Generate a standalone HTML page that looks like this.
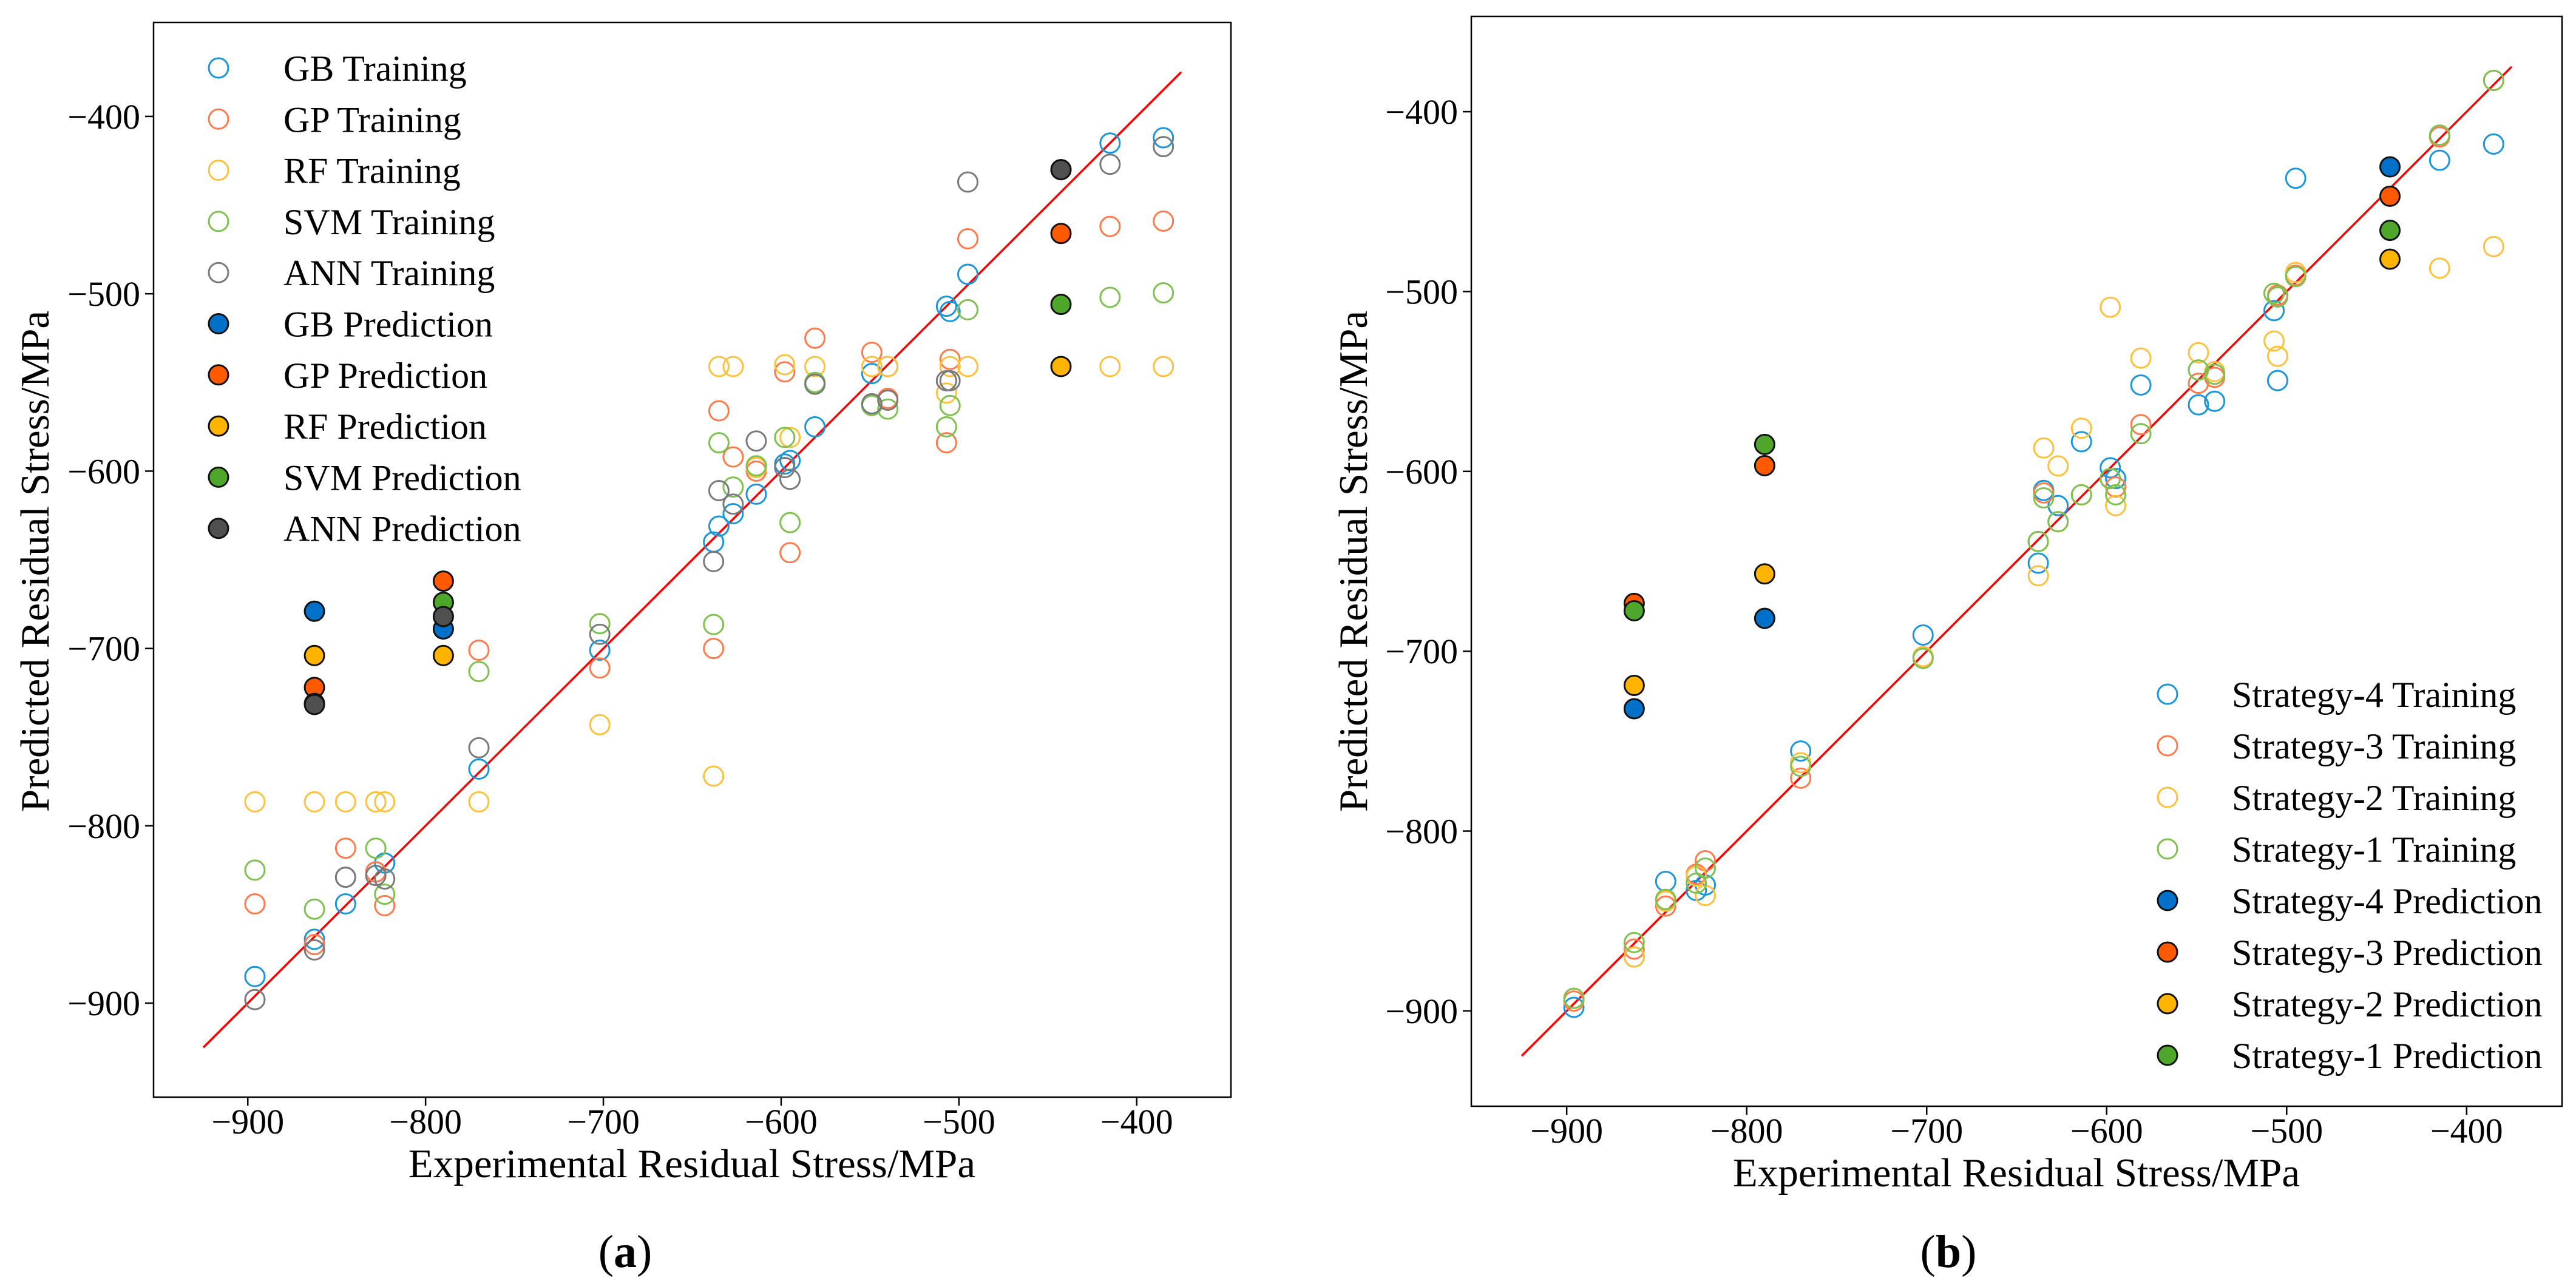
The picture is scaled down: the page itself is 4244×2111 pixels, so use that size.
<!DOCTYPE html>
<html><head><meta charset="utf-8"><style>
html,body{margin:0;padding:0;background:#fff;}
svg{display:block;font-family:"Liberation Serif","DejaVu Serif",serif;}
</style></head><body>
<svg id="fig" width="4244" height="2111" viewBox="0 0 4244 2111" xmlns="http://www.w3.org/2000/svg"></svg>
<script>
// shared experimental x values (training)
const expX = [-896,-862.5,-845,-828,-823,-770,-702,-638,-635,-627,-614,-598,-595,-581,-549,-540,-507,-505,-495,-415,-385];
const predX = [-862.5,-790,-442.6];
const xTicks = [-900,-800,-700,-600,-500,-400];
const yTicks = [-900,-800,-700,-600,-500,-400];
// Panel (a) series
const aGB  = [-885,-864,-844,-826,-821,-768,-701,-640,-631,-624,-613,-596,-594,-575,-545,-541,-507,-510,-489,-415,-412];
const aGP  = [-844,-867,-812.6,-826,-845,-701,-711,-700,-566,-592,-600,-544,-646,-525,-533,-559,-584,-537,-469,-462,-459];
const aRF  = [-786.5,-786.5,-786.5,-786.5,-786.5,-786.5,-743,-772,-541,-541,-598,-540,-581,-541,-541,-541,-556,-541,-541,-541,-541];
const aSVM = [-825,-847,-829,-812.6,-838.6,-713,-686,-686.5,-584,-609,-597,-581,-629,-550,-563,-565,-575,-563,-509,-502,-499.5];
const aANN = [-898,-870,-829,-828,-830,-756,-692,-651,-611,-618.6,-583,-598,-604.6,-551,-562,-560,-549,-549,-437,-427,-417];
const aGBp  = [-679,-689,-430];
const aGPp  = [-722,-662,-466];
const aRFp  = [-704,-704,-541];
const aSVMp = [-731,-674,-506];
const aANNp = [-731.6,-682,-430];
// Panel (b) series
const bS4 = [-898,-870,-828,-833,-830,-755.5,-691,-651,-610.6,-619,-583.5,-598,-604,-552,-563,-561,-510.6,-549.5,-437,-427,-418];
const bS3 = [-894.5,-865.6,-841.7,-824,-816.5,-770.6,-703,-639,-612,-628,-613,-604,-608.7,-574,-551,-547.7,-501,-502,-491,-414,-382.6];
const bS2 = [-893,-870,-839,-825,-835.8,-762,-703,-658,-587,-597,-576,-508.7,-619,-537,-534,-544.5,-527.5,-536,-489.4,-487,-475];
const bS1 = [-893,-862,-838,-829,-820.6,-764,-704,-639,-614.7,-628,-613,-604,-613,-579,-543.6,-546,-501,-503,-491.7,-413,-382.6];
const bS4p = [-732,-681.7,-430.7];
const bS3p = [-673.4,-596.8,-447];
const bS2p = [-719,-657,-482];
const bS1p = [-677.5,-585,-466];

const NS='http://www.w3.org/2000/svg';
const svg=document.getElementById('fig');
function mk(tag,attrs,parent){const e=document.createElementNS(NS,tag);for(const k in attrs)e.setAttribute(k,attrs[k]);(parent||svg).appendChild(e);return e;}

function panel(cfg){
  const g=mk('g',{});
  
  
  const L=cfg.L,R=cfg.R,T=cfg.T,B=cfg.B,min=-953,max=-347;
  const sx=v=>L+(v-min)/(max-min)*(R-L);
  const sy=v=>B-(v-min)/(max-min)*(B-T);
  const frame=mk('rect',{x:L,y:T,width:R-L,height:B-T,fill:'none',stroke:'#000','stroke-width':2.5},g);
  
  
  xTicks.forEach(t=>{
    mk('line',{x1:sx(t),x2:sx(t),y1:B,y2:B+14,stroke:'#000','stroke-width':2.5},g);
    const tx=mk('text',{x:sx(t),y:B+60,'font-size':58,'text-anchor':'middle'},g);
    tx.textContent='\u2212'+Math.abs(t);
    
    
  });
  yTicks.forEach(t=>{
    mk('line',{x1:L-14,x2:L,y1:sy(t),y2:sy(t),stroke:'#000','stroke-width':2.5},g);
    const tx=mk('text',{x:L-22,y:sy(t)+20,'font-size':58,'text-anchor':'end'},g);
    tx.textContent='\u2212'+Math.abs(t);
    
    
  });
  const ln=mk('line',{x1:sx(-925),y1:sy(-925),x2:sx(-375),y2:sy(-375),stroke:'#ff0000','stroke-width':3.5},g);
  
  
  cfg.train.forEach(s=>{
    s.data.forEach((v,i)=>{
      const c=mk('circle',{cx:sx(expX[i]),cy:sy(v),r:16,fill:'none',stroke:s.color,'stroke-width':3},g);
      
      
    });
  });
  cfg.pred.forEach(s=>{
    s.data.forEach((v,i)=>{
      const c=mk('circle',{cx:sx(predX[i]),cy:sy(v),r:16,fill:s.color,stroke:'#111','stroke-width':3},g);
      
      
    });
  });
  const all=cfg.train.concat(cfg.pred);
  all.forEach((s,i)=>{
    const y=cfg.legY+i*cfg.legDy;
    const filled=i>=cfg.train.length;
    const c=mk('circle',{cx:cfg.legX,cy:y,r:16,fill:filled?s.color:'none',stroke:filled?'#111':s.color,'stroke-width':3},g);
    
    
    const t=mk('text',{x:cfg.legTX,y:y+21,'font-size':60},g);
    t.textContent=s.label;
    
    
  });
  const xl=mk('text',{x:cfg.xlX,y:cfg.xlY,'font-size':67,'text-anchor':'middle'},g);
  xl.textContent='Experimental Residual Stress/MPa';
  
  
  const yl=mk('text',{x:0,y:0,'font-size':67,'text-anchor':'middle',transform:'translate('+cfg.ylX+','+cfg.ylY+') rotate(-90)'},g);
  yl.textContent='Predicted Residual Stress/MPa';
  
  
  const cap=mk('text',{x:cfg.capX,y:2088,'font-size':76,'text-anchor':'middle'},g);
  cap.innerHTML='(<tspan font-weight="bold">'+cfg.cap+'</tspan>)';
  
  
}

const C={blue:'#1a96dc',orange:'#ff7a4a',yellow:'#ffc03a',green:'#7ec24e',gray:'#7a7a7a',
  fblue:'#0070c8',forange:'#ff5a00',fyellow:'#ffb400',fgreen:'#4ea72a',fgray:'#505050'};

panel({name:'panel-a',L:253,R:2028,T:37,B:1808,cap:'a',capX:1030,
  legX:360,legY:112,legDy:84.3,legTX:467,xlX:1140,xlY:1940,ylX:80,ylY:925,
  train:[{key:'gb',label:'GB Training',color:C.blue,data:aGB},
         {key:'gp',label:'GP Training',color:C.orange,data:aGP},
         {key:'rf',label:'RF Training',color:C.yellow,data:aRF},
         {key:'svm',label:'SVM Training',color:C.green,data:aSVM},
         {key:'ann',label:'ANN Training',color:C.gray,data:aANN}],
  pred:[{key:'gb',label:'GB Prediction',color:C.fblue,data:aGBp},
        {key:'gp',label:'GP Prediction',color:C.forange,data:aGPp},
        {key:'rf',label:'RF Prediction',color:C.fyellow,data:aRFp},
        {key:'svm',label:'SVM Prediction',color:C.fgreen,data:aSVMp},
        {key:'ann',label:'ANN Prediction',color:C.fgray,data:aANNp}]});

panel({name:'panel-b',L:2424,R:4221,T:27,B:1823,cap:'b',capX:3210,
  legX:3571,legY:1144,legDy:85,legTX:3677,xlX:3322,xlY:1955,ylX:2252,ylY:925,
  train:[{key:'strategy-4',label:'Strategy-4 Training',color:C.blue,data:bS4},
         {key:'strategy-3',label:'Strategy-3 Training',color:C.orange,data:bS3},
         {key:'strategy-2',label:'Strategy-2 Training',color:C.yellow,data:bS2},
         {key:'strategy-1',label:'Strategy-1 Training',color:C.green,data:bS1}],
  pred:[{key:'strategy-4',label:'Strategy-4 Prediction',color:C.fblue,data:bS4p},
        {key:'strategy-3',label:'Strategy-3 Prediction',color:C.forange,data:bS3p},
        {key:'strategy-2',label:'Strategy-2 Prediction',color:C.fyellow,data:bS2p},
        {key:'strategy-1',label:'Strategy-1 Prediction',color:C.fgreen,data:bS1p}]});
</script>
</body></html>
